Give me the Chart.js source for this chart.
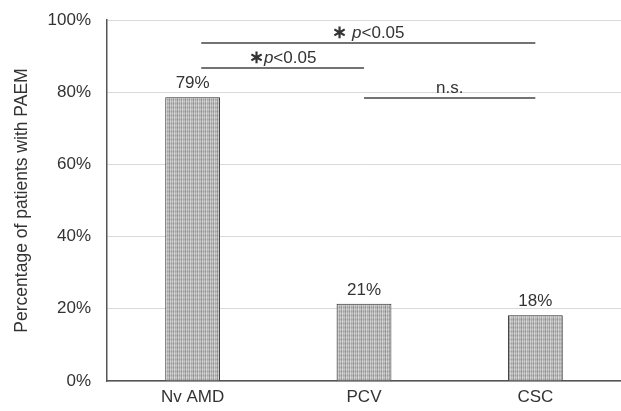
<!DOCTYPE html>
<html>
<head>
<meta charset="utf-8">
<script src="https://cdn.jsdelivr.net/npm/chart.js@4/dist/chart.umd.min.js"></script>
<style>
  html, body { margin: 0; padding: 0; background: #fff; }
  #wrap { width: 621px; height: 411px; }
</style>
</head>
<body>
<div id="wrap"><canvas id="myChart"></canvas></div>
<script>
const categories = ['Nv AMD', 'PCV', 'CSC'];
const values = [78.6, 21.4, 18.2];
const valueLabels = ['79%', '21%', '18%'];
// significance brackets: from / to category index, level in %
const sigFrom = [0.05, 0.05, 1];
const sigTo = [2, 1, 2];
const sigLevel = [93.6, 86.7, 78.4];
const sigText = [['\u2217 ', 'p', '<0.05'], ['\u2217', 'p', '<0.05'], ['', '', 'n.s.']];

const FONT = '"Liberation Sans", Arial, sans-serif';
const TEXT = '#333';

const makePattern = () => {
    const c = document.createElement('canvas');
    c.width = 8; c.height = 4;
    const g = c.getContext('2d');
    const cols = ['#c0c0c0', '#969696', '#cecece', '#a8a8a8', '#c6c6c6', '#9e9e9e', '#d2d2d2', '#b0b0b0'];
    cols.forEach((col, i) => { g.fillStyle = col; g.fillRect(i, 0, 1, 4); });
    g.fillStyle = 'rgba(255,255,255,0.18)';
    g.fillRect(0, 1, 8, 1);
    g.fillStyle = 'rgba(0,0,0,0.06)';
    g.fillRect(0, 3, 8, 1);
    return g.createPattern(c, 'repeat');
};

const annotations = {
    id: 'annotations',
    afterDatasetsDraw(chart) {
        const {ctx, scales: {x, y}} = chart;
        ctx.save();
        ctx.font = '17px ' + FONT;
        ctx.fillStyle = TEXT;
        ctx.textAlign = 'center';
        ctx.textBaseline = 'alphabetic';
        // value labels
        chart.getDatasetMeta(0).data.forEach((bar, i) => {
            ctx.fillText(valueLabels[i], bar.x, bar.y - 9);
        });
        // brackets
        ctx.strokeStyle = '#444';
        ctx.lineWidth = 1.5;
        sigLevel.forEach((lv, i) => {
            const x1 = x.getPixelForValue(sigFrom[i]);
            const x2 = x.getPixelForValue(sigTo[i]);
            const yy = y.getPixelForValue(lv);
            ctx.beginPath();
            ctx.moveTo(x1, yy);
            ctx.lineTo(x2, yy);
            ctx.stroke();
            const parts = sigText[i];
            const fonts = ['bold 18px ' + FONT, 'italic 17px ' + FONT, '17px ' + FONT];
            const widths = parts.map((t, k) => { ctx.font = fonts[k]; return ctx.measureText(t).width; });
            const total = widths.reduce((a, b) => a + b, 0);
            let cx = (x1 + x2) / 2 - total / 2;
            ctx.textAlign = 'left';
            parts.forEach((t, k) => {
                ctx.font = fonts[k];
                ctx.fillText(t, cx, yy - 5);
                cx += widths[k];
            });
            ctx.textAlign = 'center';
        });
        ctx.restore();
    }
};

const chart = new Chart(document.getElementById('myChart'), {
    type: 'bar',
    data: {
        labels: categories,
        datasets: [{
            data: values,
            backgroundColor: makePattern(),
            borderColor: '#2a2a2a',
            borderWidth: 1,
            categoryPercentage: 1,
            barPercentage: 0.32
        }]
    },
    options: {
        responsive: true,
        maintainAspectRatio: false,
        animation: false,
        layout: { padding: { top: 20, right: 0, left: 0, bottom: 0 } },
        plugins: { legend: { display: false }, tooltip: { enabled: false } },
        scales: {
            x: {
                grid: { display: false, drawTicks: false },
                border: { color: '#555', width: 1.5 },
                ticks: { color: TEXT, font: { family: FONT, size: 17 }, padding: 6 },
                afterFit: s => { s.height = 30; }
            },
            y: {
                min: 0, max: 100,
                grid: { color: '#d9d9d9', drawTicks: false },
                border: { color: '#555', width: 1.5 },
                ticks: { stepSize: 20, color: TEXT, font: { family: FONT, size: 17 }, padding: 16,
                    callback: v => v + '%' },
                title: { display: true, text: 'Percentage of patients with PAEM', color: TEXT,
                    font: { family: FONT, size: 17.5 }, padding: { top: 12, bottom: 6 } },
                afterFit: s => { s.width = 107; s.paddingTop = 0; s.paddingBottom = 0; }
            }
        }
    },
    plugins: [annotations]
});
</script>
</body>
</html>
